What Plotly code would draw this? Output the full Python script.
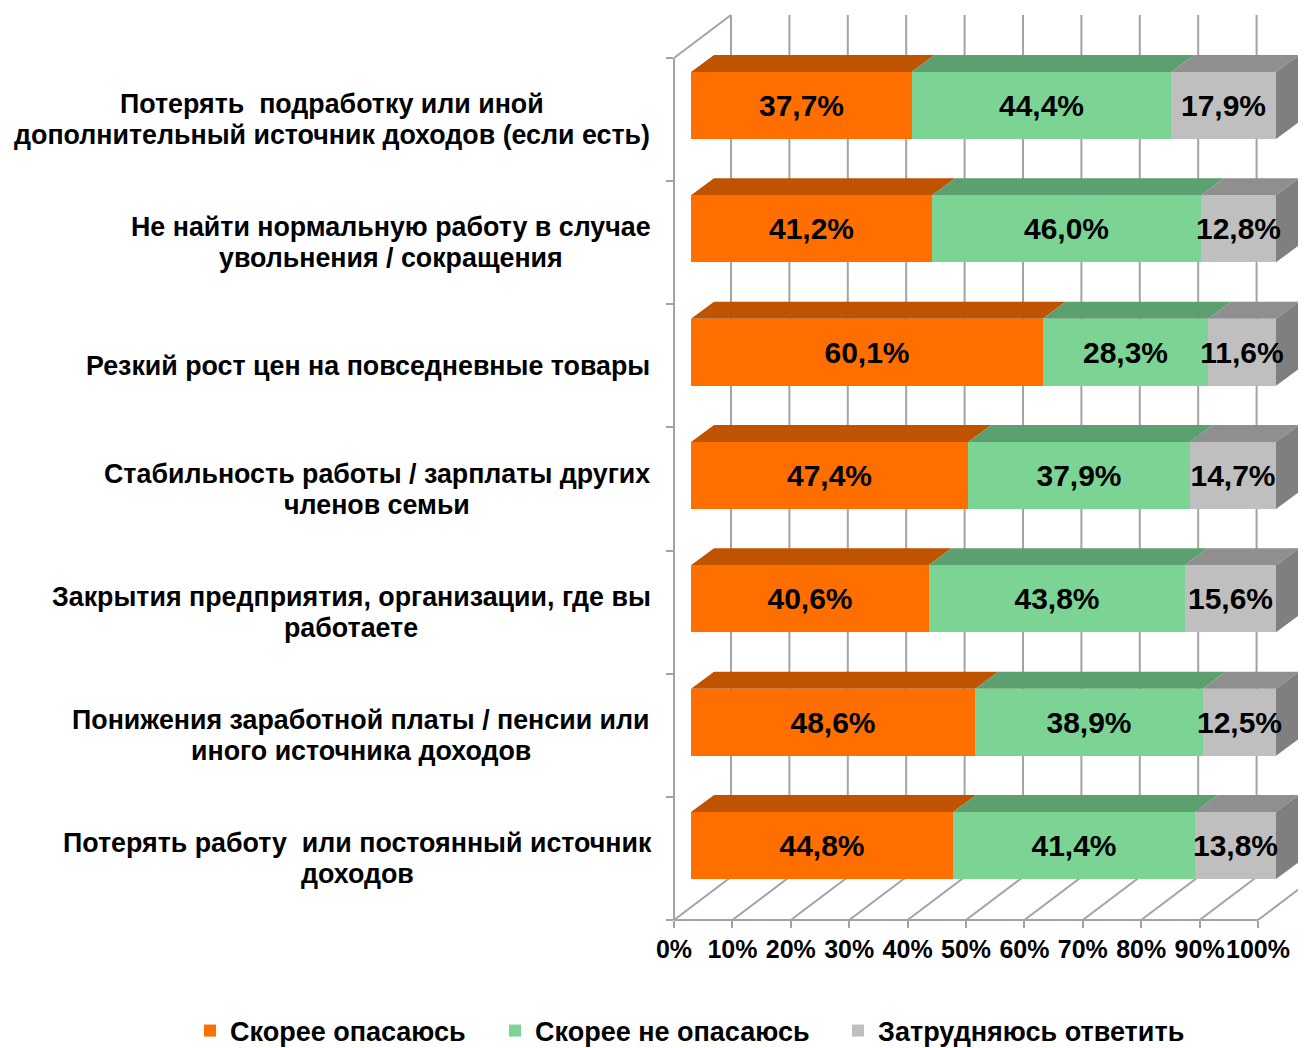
import plotly.graph_objects as go

categories = [
    "Потерять  подработку или иной<br>дополнительный источник доходов (если есть)",
    "Не найти нормальную работу в случае<br>увольнения / сокращения",
    "Резкий рост цен на повседневные товары",
    "Стабильность работы / зарплаты других<br>членов семьи",
    "Закрытия предприятия, организации, где вы<br>работаете",
    "Понижения заработной платы / пенсии или<br>иного источника доходов",
    "Потерять работу  или постоянный источник<br>доходов",
]
afraid = [37.7, 41.2, 60.1, 47.4, 40.6, 48.6, 44.8]
not_afraid = [44.4, 46.0, 28.3, 37.9, 43.8, 38.9, 41.4]
unsure = [17.9, 12.8, 11.6, 14.7, 15.6, 12.5, 13.8]
series_names = ["Скорее опасаюсь", "Скорее не опасаюсь", "Затрудняюсь ответить"]
series_values = [afraid, not_afraid, unsure]
front_colors = ["#FF6F00", "#7BD494", "#BFBFBF"]
top_colors = ["#BF5300", "#5CA06F", "#8F8F8F"]
side_color = "#7F7F7F"
grid_color = "#A3A3A3"
ticks = list(range(0, 101, 10))
label_centers_px = [332, 391, 368, 377, 351, 361, 357]
legend_left_px = [190, 495, 838]

OFF = 8  # default page margin round the figure
W, H = 1306 - OFF, 1048 - OFF
PX_X, PX_Y = 5.85, 123.33
X0_PX, Y0_PX = 691.0 - OFF, 105.5 - OFF
FONT = "Liberation Sans"

x_range = [-X0_PX / PX_X, (W - X0_PX) / PX_X]
y_range = [(H - Y0_PX) / PX_Y, -Y0_PX / PX_Y]
BAR_W = 67 / PX_Y
TOP_DX, TOP_DY = 23 / PX_X, 17 / PX_Y
FRAME_DX = -17 / PX_X
WALL_DX, WALL_DY = 57 / PX_X, 43 / PX_Y
FRAME_TOP, FRAME_BOT = (58 - OFF - Y0_PX) / PX_Y, (920 - OFF - Y0_PX) / PX_Y

fig = go.Figure()

# back wall + floor lines
gx, gy = [], []
for t in ticks:
    fx = t * 584 / 585 + FRAME_DX
    gx += [fx, fx + WALL_DX, fx + WALL_DX, None]
    gy += [FRAME_BOT, FRAME_BOT - WALL_DY, FRAME_TOP - WALL_DY, None]
gx += [FRAME_DX, FRAME_DX + WALL_DX]
gy += [FRAME_TOP, FRAME_TOP - WALL_DY]
fig.add_trace(go.Scatter(x=gx, y=gy, mode="lines", line=dict(color=grid_color, width=2),
                         showlegend=False, hoverinfo="skip"))

# 3-D faces computed from the values
for s, vals in enumerate(series_values):
    fx, fy = [], []
    for j in range(len(categories)):
        start = sum(series_values[k][j] for k in range(s))
        end = start + vals[j]
        top = j - BAR_W / 2
        fx += [start, end, end + TOP_DX, start + TOP_DX, start, None]
        fy += [top, top, top - TOP_DY, top - TOP_DY, top, None]
    fig.add_trace(go.Scatter(x=fx, y=fy, mode="lines", fill="toself", fillcolor=top_colors[s],
                             line=dict(width=0), showlegend=False, hoverinfo="skip"))
sx, sy = [], []
for j in range(len(categories)):
    end = sum(v[j] for v in series_values)
    top, bot = j - BAR_W / 2, j + BAR_W / 2
    sx += [end, end + TOP_DX, end + TOP_DX, end, end, None]
    sy += [top, top - TOP_DY, bot - TOP_DY, bot, top, None]
fig.add_trace(go.Scatter(x=sx, y=sy, mode="lines", fill="toself", fillcolor=side_color,
                         line=dict(width=0), showlegend=False, hoverinfo="skip"))

# front faces
legend_ids = ["legend", "legend2", "legend3"]
for s, vals in enumerate(series_values):
    fig.add_trace(go.Bar(
        x=vals, y=list(range(len(categories))), orientation="h", width=BAR_W, name=series_names[s],
        marker=dict(color=front_colors[s], line=dict(width=0)),
        text=[f"{v:.1f}%".replace(".", ",") for v in vals],
        textposition="inside", insidetextanchor="middle", constraintext="none", textangle=0,
        textfont=dict(family=FONT, size=30, color="black", weight="bold"),
        xaxis="x2", yaxis="y2", legend=legend_ids[s],
    ))

# frame axes carrier
fig.add_trace(go.Scatter(x=[0, 100], y=[0, 7], mode="lines", line=dict(width=0, color="rgba(0,0,0,0)"),
                         xaxis="x3", yaxis="y3", showlegend=False, hoverinfo="skip"))

annotations = []
for j, c in enumerate(categories):
    lines = c.split("<br>")
    for n, line in enumerate(lines):
        annotations.append(dict(
            text=line, xref="paper", yref="y3", x=(label_centers_px[j] - OFF) / W, y=j + 0.5,
            yshift=15.5 * (len(lines) - 1) - 31 * n, xanchor="center", yanchor="middle", showarrow=False,
            font=dict(family=FONT, size=26.8, color="black", weight="bold")))


def legend_at(px):
    return dict(orientation="h", x=(px - OFF) / W, xref="container", xanchor="left",
                y=(H - (1031 - OFF)) / H, yref="container", yanchor="middle",
                font=dict(family=FONT, size=27, color="black", weight="bold"),
                bgcolor="rgba(0,0,0,0)")


fig.update_layout(
    width=W, height=H, autosize=False, margin=dict(l=0, r=0, t=0, b=0, pad=0, autoexpand=False),
    paper_bgcolor="white", plot_bgcolor="rgba(0,0,0,0)", barmode="stack", bargap=0,
    xaxis=dict(domain=[0, 1], range=x_range, visible=False),
    yaxis=dict(domain=[0, 1], range=y_range, visible=False),
    xaxis2=dict(overlaying="x", range=x_range, visible=False, anchor="y2"),
    yaxis2=dict(overlaying="y", range=y_range, visible=False, anchor="x2"),
    xaxis3=dict(domain=[(674 - OFF) / W, (1258 - OFF) / W], range=[0, 100], anchor="free",
                position=(H - (920 - OFF)) / H,
                tickvals=ticks, ticktext=[f"{t}%" for t in ticks], tickangle=0, showline=True,
                linecolor=grid_color, linewidth=2, ticks="outside", ticklen=7, tickwidth=2,
                tickcolor=grid_color, showgrid=False, zeroline=False, automargin=False,
                tickfont=dict(family=FONT, size=25, color="black", weight="bold")),
    yaxis3=dict(domain=[(H - (920 - OFF)) / H, (H - (58 - OFF)) / H], range=[7, 0], anchor="free",
                position=(674 - OFF) / W,
                tickvals=list(range(8)), showticklabels=False, showline=True, linecolor=grid_color,
                linewidth=2, ticks="outside", ticklen=7, tickwidth=2, tickcolor=grid_color, showgrid=False,
                zeroline=False),
    annotations=annotations,
    showlegend=True,
    legend=legend_at(legend_left_px[0]),
    legend2=legend_at(legend_left_px[1]),
    legend3=legend_at(legend_left_px[2]),
)
fig.write_html("out.html")
